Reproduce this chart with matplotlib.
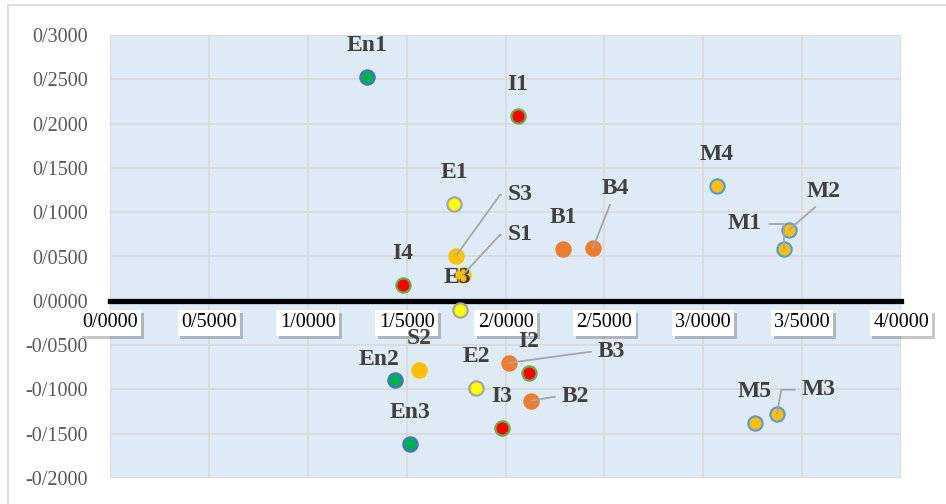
import matplotlib
matplotlib.use("Agg")
import matplotlib.pyplot as plt
import matplotlib.patheffects as pe
from matplotlib.patches import Rectangle

plt.rcParams["font.family"] = ["Liberation Serif", "DejaVu Serif"]

# data
names = ["En1", "En2", "En3",
         "I1", "I2", "I3", "I4",
         "E1", "E2", "E3",
         "S1", "S2", "S3",
         "B1", "B2", "B3", "B4",
         "M1", "M2", "M3", "M4", "M5"]
x_vals = [1.300, 1.441, 1.517,
          2.063, 2.119, 1.982, 1.482,
          1.740, 1.851, 1.770,
          1.785, 1.563, 1.750,
          2.291, 2.129, 2.018, 2.442,
          3.408, 3.434, 3.373, 3.070, 3.262]
y_vals = [0.2528, -0.0892, -0.1614,
          0.2088, -0.0813, -0.1433, 0.0181,
          0.1095, -0.0982, -0.0102,
          0.0293, -0.0779, 0.0508,
          0.0587, -0.1129, -0.0700, 0.0598,
          0.0587, 0.0801, -0.1275, 0.1298, -0.1377]

x_ticks = [0, 0.5, 1, 1.5, 2, 2.5, 3, 3.5, 4]
x_tick_labels = ["0/0000", "0/5000", "1/0000", "1/5000", "2/0000",
                 "2/5000", "3/0000", "3/5000", "4/0000"]
y_ticks = [0.3, 0.25, 0.2, 0.15, 0.1, 0.05, 0, -0.05, -0.1, -0.15, -0.2]
y_tick_labels = ["0/3000", "0/2500", "0/2000", "0/1500", "0/1000", "0/0500",
                 "0/0000", "-0/0500", "-0/1000", "-0/1500", "-0/2000"]

# marker style per group (prefix of the name)
group_style = {
    "En": dict(fc="#00B050", ec="#4472C4"),
    "I": dict(fc="#FF0000", ec="#70AD47"),
    "E": dict(fc="#FFFF00", ec="#A5A5A5"),
    "S": dict(fc="#FFC000", ec="#FFC000"),
    "B": dict(fc="#ED7D31", ec="#ED7D31"),
    "M": dict(fc="#FFC000", ec="#5B9BD5"),
}

# label placement in pixels relative to the point: (dx, dy, ha, leader)
label_pos = {
    "En2": (-16, 20, "center", None),
    "S3": (52, 61, "left", "arc"),
    "S1": (45, 40, "left", "arc"),
    "B4": (22, 59, "center", "bottom"),
    "M1": (-22, 25, "right", "angle"),
    "M2": (35, 38, "center", "bottom"),
    "B3": (89, 11, "left", "arc"),
    "B2": (31, 4, "left", "arc"),
    "M3": (25, 24, "left", "angle_left"),
    "E3": (-3, 32, "center", None),
}

leader_styles = {
    "arc": dict(relpos=(0, 0.5), shrinkA=3,
                connectionstyle="arc,angleA=180,armA=8,angleB=0,armB=0,rad=0"),
    "bottom": dict(relpos=(0.4, 0), shrinkA=2),
    "angle": dict(relpos=(1, 0.5), shrinkA=3,
                  connectionstyle="angle,angleA=0,angleB=90,rad=0"),
    "angle_left": dict(relpos=(0, 0.5), shrinkA=3,
                       connectionstyle="angle,angleA=180,angleB=80,rad=0"),
}


def group_of(name):
    return name[:2] if name.startswith("En") else name[0]


fig = plt.figure(figsize=(9.46, 5.04), dpi=100)
fig.patches.append(Rectangle((8 / 946, -0.1), 1.2, 1.09, transform=fig.transFigure,
                             fill=False, edgecolor="#D9D9D9", linewidth=1.2))

ax = fig.add_axes([110 / 946, 26 / 504, 791 / 946, 443 / 504])
ax.set_facecolor("#DEEBF7")
ax.set_xlim(0, 4)
ax.set_ylim(-0.2, 0.3)

for side in ["top", "right", "left"]:
    ax.spines[side].set_visible(False)
ax.spines["bottom"].set_position(("data", 0))
ax.spines["bottom"].set_linewidth(3.8)
ax.spines["bottom"].set_color("black")
ax.spines["bottom"].set_zorder(4)

ax.set_xticks(x_ticks)
ax.set_xticklabels(x_tick_labels, fontsize=14.5, color="black")
ax.set_yticks(y_ticks)
ax.set_yticklabels(y_tick_labels, fontsize=14.5, color="#595959")
ax.tick_params(axis="x", length=0, pad=9)
ax.tick_params(axis="y", length=0, pad=16)
ax.grid(True, color="#D9D9D9", linewidth=1.2, zorder=0)
ax.set_axisbelow(True)

for lab in ax.get_xticklabels():
    lab.set_bbox(dict(facecolor="white", edgecolor="none", pad=2.5))
    lab.get_bbox_patch().set_path_effects(
        [pe.withSimplePatchShadow(offset=(2, -2), shadow_rgbFace="black", alpha=0.22)])
    lab.set_zorder(5)

for name, xv, yv in zip(names, x_vals, y_vals):
    st = group_style[group_of(name)]
    ax.scatter(xv, yv, s=105, facecolor=st["fc"], edgecolor=st["ec"],
               linewidth=1.6, zorder=6)

    dx, dy, ha, leader = label_pos.get(name, (0, 31, "center", None))
    kw = dict(xy=(xv, yv), xytext=(dx, dy), textcoords="offset pixels",
              ha=ha, va="center", fontsize=17, fontweight="bold",
              color="#404040", zorder=7)
    if leader is not None:
        kw["arrowprops"] = dict(arrowstyle="-", color="#A6A6A6", lw=1.3,
                                shrinkB=0, **leader_styles[leader])
    ax.annotate(name, **kw)

fig.savefig("out.png", dpi=100)
